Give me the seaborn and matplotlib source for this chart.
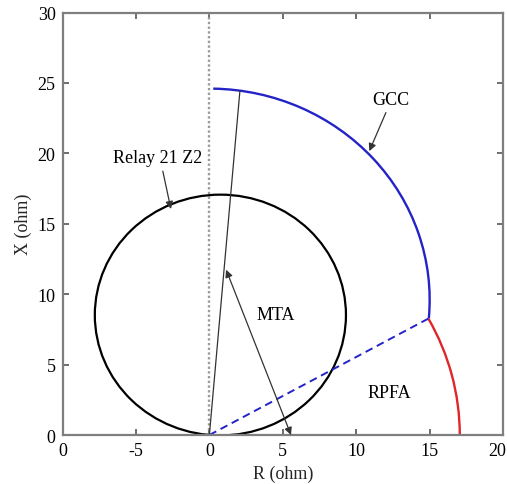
import numpy as np
import pandas as pd
import matplotlib
matplotlib.use('Agg')
import matplotlib.pyplot as plt
import matplotlib.transforms as mtransforms
from matplotlib.patches import Circle, Arc
import seaborn as sns

# ---- data ----
x_ticks = [-10, -5, 0, 5, 10, 15, 20]
x_tick_labels = ['0', '-5', '0', '5', '10', '15', '20']
y_ticks = [0, 5, 10, 15, 20, 25, 30]
y_tick_labels = ['0', '5', '10', '15', '20', '25', '30']

# Relay 21 Z2 mho circle (center, radius)
mho_center = [0.75, 8.52]
mho_radius = 8.55
# GCC arc (center, radius, start/end angle in degrees)
gcc_center = [0.0, 9.6]
gcc_radius = 15.0
gcc_angles = [-5.1, 89.0]
# RPFA arc about the origin
rpfa_center = [0.0, 0.0]
rpfa_radius = 17.05
rpfa_angles = [0.0, 29.0]

# straight lines
mta_line_x = [0.0, 2.08]
mta_line_y = [0.0, 24.45]
rpfa_line_x = [0.0, 14.9]
rpfa_line_y = [0.0, 8.26]
vert_line_x = [0.0, 0.0]
vert_line_y = [0.0, 30.0]

# annotations: text, text position, arrow tail, arrow tip
ann_texts = ['GCC', 'Relay 21 Z2', 'MTA', 'RPFA']
ann_text_x = [12.36, -3.5, 4.54, 12.24]
ann_text_y = [23.85, 19.7, 8.55, 3.0]
arrow_tail_x = [12.02, -3.17, 1.14]
arrow_tail_y = [22.9, 18.74, 11.74]
arrow_tip_x = [10.89, -2.62, 5.56]
arrow_tip_y = [20.16, 16.05, 0.0]
arrow_styles = ['-|>', '-|>', '<|-|>']

# ---- styling ----
sns.set_theme(style='white')
plt.rcParams['font.family'] = ['Liberation Serif', 'DejaVu Serif']
plt.rcParams['mathtext.fontset'] = 'stix'

fig = plt.figure(figsize=(5.07, 4.85), dpi=100)
ax = fig.add_axes([0.1233, 0.1010, 0.8690, 0.8710])

blue = '#2323c8'
red = '#e0262a'
gray = '#7f7f7f'

# vertical dotted reference line
ax.plot(vert_line_x, vert_line_y, color='#9c9c9c', linestyle=(0, (1, 1)),
        linewidth=1.7, dash_capstyle='butt', zorder=1)
# MTA line
sns.lineplot(x=mta_line_x, y=mta_line_y, ax=ax, color='#333333',
             linewidth=0.9, sort=False)
# RPFA dashed boundary
sns.lineplot(x=rpfa_line_x, y=rpfa_line_y, ax=ax, color=blue,
             linestyle=(0, (4, 2.5)), linewidth=1.4, sort=False)

# mho circle
ax.add_patch(Circle(mho_center, mho_radius, fill=False, edgecolor='black',
                    linewidth=1.6))
# GCC arc
ax.add_patch(Arc(gcc_center, 2 * gcc_radius, 2 * gcc_radius,
                 theta1=gcc_angles[0], theta2=gcc_angles[1],
                 edgecolor=blue, linewidth=1.7))
# RPFA arc
ax.add_patch(Arc(rpfa_center, 2 * rpfa_radius, 2 * rpfa_radius,
                 theta1=rpfa_angles[0], theta2=rpfa_angles[1],
                 edgecolor=red, linewidth=1.7))

# annotations
for i in range(len(arrow_styles)):
    ax.annotate('', xy=(arrow_tip_x[i], arrow_tip_y[i]),
                xytext=(arrow_tail_x[i], arrow_tail_y[i]),
                arrowprops=dict(arrowstyle=arrow_styles[i], color='#333333',
                                lw=0.9, shrinkA=0, shrinkB=0,
                                mutation_scale=11))
for t, tx, ty in zip(ann_texts, ann_text_x, ann_text_y):
    ax.text(tx, ty, t, ha='center', va='center', fontsize=13, color='black')

ax.set_xlim(-10, 20)
ax.set_ylim(0, 30)
ax.set_xticks(x_ticks)
ax.set_xticklabels(x_tick_labels)
ax.set_yticks(y_ticks)
ax.set_yticklabels(y_tick_labels)
ax.set_xlabel('R (ohm)', fontsize=13, labelpad=4)
ax.set_ylabel('X (ohm)', fontsize=13, labelpad=4)

for s in ax.spines.values():
    s.set_visible(True)
    s.set_color(gray)
    s.set_linewidth(1.6)
ax.tick_params(axis='both', which='both', direction='in', length=4,
               width=1.2, color='#555555', labelsize=13, labelcolor='black',
               top=True, right=True, bottom=True, left=True, pad=5)
ax.grid(False)
ax.set_facecolor('white')

# keep the last x tick label inside the figure (as in the reference)
last = ax.get_xticklabels()[-1]
last.set_transform(last.get_transform() +
                   mtransforms.ScaledTranslation(-6 / 100, 0, fig.dpi_scale_trans))

fig.savefig('out.png', dpi=100, facecolor='white')
